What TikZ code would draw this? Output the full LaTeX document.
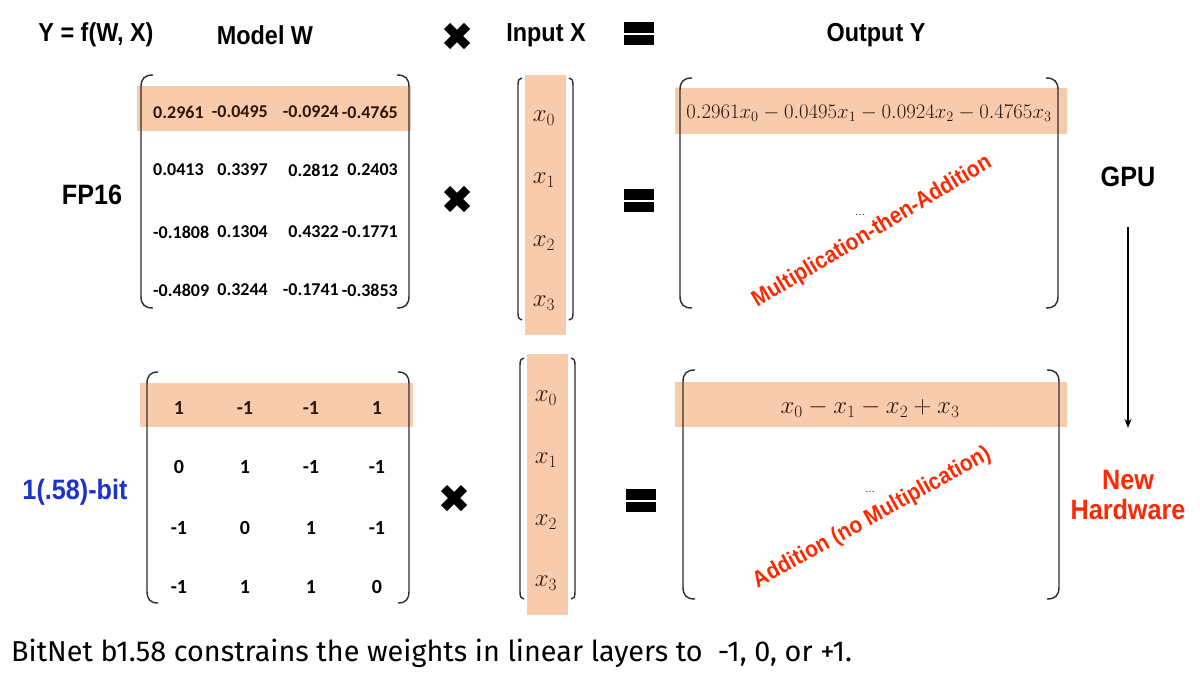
\documentclass[tikz,border=0pt]{standalone}
\usepackage{fontspec}
\usetikzlibrary{arrows.meta}
\setmainfont{Liberation Sans}
\newfontfamily\hfont{Liberation Sans}[FakeStretch=0.9]
\newfontfamily\numfont{Carlito}
\newfontfamily\capfont{Fira Sans}
\definecolor{band}{RGB}{248,203,173}
\definecolor{redtxt}{RGB}{255,40,0}
\definecolor{bluetxt}{RGB}{28,50,200}
\definecolor{brkcol}{RGB}{45,45,45}
\definecolor{intxt}{RGB}{45,22,10}
\newcommand{\myBrL}[5]{% x, top, bottom, hookx, hooky
  \draw[brk] (#1+#4,#2) .. controls (#1+0.3*#4,#2) and (#1,#2+0.3*#5) .. (#1,#2+#5) -- (#1,#3-#5) .. controls (#1,#3-0.3*#5) and (#1+0.3*#4,#3) .. (#1+#4,#3);}
\newcommand{\myBrR}[5]{%
  \draw[brk] (#1-#4,#2) .. controls (#1-0.3*#4,#2) and (#1,#2+0.3*#5) .. (#1,#2+#5) -- (#1,#3-#5) .. controls (#1,#3-0.3*#5) and (#1-0.3*#4,#3) .. (#1-#4,#3);}
\newcommand{\myTimes}[2]{%
  \draw[line width=8.5pt] (#1-10,#2-10) -- (#1+10,#2+10);
  \draw[line width=8.5pt] (#1-10,#2+10) -- (#1+10,#2-10);}
\newcommand{\myEq}[2]{% left x, top y
  \fill[black] (#1,#2) rectangle (#1+30,#2+10.5);
  \fill[black] (#1,#2+12.5) rectangle (#1+30,#2+23);}
\tikzset{
  head/.style={font=\hfont\bfseries\fontsize{26}{30}\selectfont, inner sep=0pt},
  big/.style={font=\hfont\bfseries\fontsize{28}{32}\selectfont, inner sep=0pt, align=center},
  wnum/.style={font=\numfont\bfseries\fontsize{18}{20}\selectfont, inner sep=0pt},
  bnum/.style={font=\numfont\bfseries\fontsize{20}{22}\selectfont, inner sep=0pt},
  mth/.style={font=\fontsize{22}{24}\selectfont, inner sep=0pt},
  vec/.style={font=\fontsize{25}{28}\selectfont, inner sep=0pt, text=intxt},
  slant/.style={font=\hfont\bfseries\fontsize{23}{26}\selectfont, text=redtxt, inner sep=0pt},
  brk/.style={draw=brkcol, line width=1.4pt},
  dots/.style={font=\fontsize{10}{12}\selectfont, inner sep=0pt},
}
\begin{document}
\begin{tikzpicture}[x=1pt,y=-1pt]
\fill[white] (0,0) rectangle (1200,675);
\useasboundingbox (0,0) rectangle (1200,675);

% header
\node[head] (yfx) at (96,35) {Y = f(W, X)};
\node[head] (modelw) at (265,35) {Model W};
\node[head] (inputx) at (546,35) {Input X};
\node[head] (outy) at (876,35) {Output Y};
\myTimes{457}{36}
\myEq{624}{22}

% bands
\fill[band] (137,86) rectangle (411,131);
\fill[band] (525,75) rectangle (566,335);
\fill[band] (675,88) rectangle (1067,134);
\fill[band] (140,383) rectangle (413,427);
\fill[band] (527,354) rectangle (568,615);
\fill[band] (675,382) rectangle (1067,427);

% brackets upper
\myBrL{141}{75}{308}{12}{12}
\myBrR{409}{75}{308}{12}{12}
\myBrL{518}{78}{320}{4}{7}
\myBrR{573}{78}{320}{4}{7}
\myBrL{680}{78}{308}{12}{12}
\myBrR{1058}{78}{308}{12}{12}
% brackets lower
\myBrL{147}{372}{603}{11}{12}
\myBrR{409}{372}{603}{11}{12}
\myBrL{520}{358}{599}{4}{7}
\myBrR{575}{358}{599}{4}{7}
\myBrL{683}{370}{599}{12}{12}
\myBrR{1059}{370}{599}{12}{12}

% FP16 side
\node[big] (fp16) at (92,195) {FP16};
\node[big, text=bluetxt] (onebit) at (75,492) {1(.58)-bit};

% upper W matrix
\node[wnum, anchor=west, text=intxt] (w11) at (153,112) {0.2961};
\node[wnum, anchor=east, text=intxt] (w12) at (268,112) {-0.0495};
\node[wnum, anchor=east, text=intxt] (w13) at (339,112) {-0.0924};
\node[wnum, anchor=east, text=intxt] (w14) at (398,112) {-0.4765};
\node[wnum, anchor=west] (w21) at (153,170) {0.0413};
\node[wnum, anchor=east] (w22) at (268,170) {0.3397};
\node[wnum, anchor=east] (w23) at (339,170) {0.2812};
\node[wnum, anchor=east] (w24) at (398,170) {0.2403};
\node[wnum, anchor=west] (w31) at (153,232) {-0.1808};
\node[wnum, anchor=east] (w32) at (268,232) {0.1304};
\node[wnum, anchor=east] (w33) at (339,232) {0.4322};
\node[wnum, anchor=east] (w34) at (398,232) {-0.1771};
\node[wnum, anchor=west] (w41) at (153,290) {-0.4809};
\node[wnum, anchor=east] (w42) at (268,290) {0.3244};
\node[wnum, anchor=east] (w43) at (339,290) {-0.1741};
\node[wnum, anchor=east] (w44) at (398,290) {-0.3853};

% lower W matrix
\node[bnum, text=intxt] (b11) at (179,408) {1};
\node[bnum, text=intxt] (b12) at (245,408) {-1};
\node[bnum, text=intxt] (b13) at (311,408) {-1};
\node[bnum, text=intxt] (b14) at (377,408) {1};
\node[bnum] (b21) at (179,467) {0};
\node[bnum] (b22) at (245,467) {1};
\node[bnum] (b23) at (311,467) {-1};
\node[bnum] (b24) at (377,467) {-1};
\node[bnum] (b31) at (179,528) {-1};
\node[bnum] (b32) at (245,528) {0};
\node[bnum] (b33) at (311,528) {1};
\node[bnum] (b34) at (377,528) {-1};
\node[bnum] (b41) at (179,587) {-1};
\node[bnum] (b42) at (245,587) {1};
\node[bnum] (b43) at (311,587) {1};
\node[bnum] (b44) at (377,587) {0};

% operators
\myTimes{457}{199}
\myEq{624}{189}
\myTimes{454}{498}
\myEq{626}{489}

% X vectors
\node[vec] (ux0) at (544,118) {$x_0$};
\node[vec] (ux1) at (544,180) {$x_1$};
\node[vec] (ux2) at (544,243) {$x_2$};
\node[vec] (ux3) at (544,303) {$x_3$};
\node[vec] (lx0) at (546,398) {$x_0$};
\node[vec] (lx1) at (546,460) {$x_1$};
\node[vec] (lx2) at (546,522) {$x_2$};
\node[vec] (lx3) at (546,583) {$x_3$};

% outputs
\node[mth, text=intxt] (uy) at (869,113) {$0.2961x_0-0.0495x_1-0.0924x_2-0.4765x_3$};
\node[mth, text=intxt, font=\fontsize{23}{25}\selectfont] (ly) at (870,408) {$x_0-x_1-x_2+x_3$};
\node[dots] (udots) at (860,215) {\ldots};
\node[dots] (ldots) at (870,492) {\ldots};
\node[slant, rotate=31] (mta) at (872,232) {Multiplication-then-Addition};
\node[slant, rotate=29] (anm) at (872,518) {Addition (no Multiplication)};

% right side
\node[big] (gpu) at (1128,177) {GPU};
\node[big, text=redtxt] (newhw) at (1128,495) {New\\[-2pt]Hardware};
\coordinate (atop) at (1128,227);
\coordinate (abot) at (1128,428);
\draw[line width=1.4pt, -{Stealth[length=9pt,width=7pt]}] (atop) -- (abot);

% caption
\node[font=\capfont\fontsize{28.8}{32}\selectfont, anchor=base west, inner sep=0pt] (cap) at (11,661) {BitNet b1.58 constrains the weights in linear layers to~ -1, 0, or +1.};
\end{tikzpicture}
\end{document}
